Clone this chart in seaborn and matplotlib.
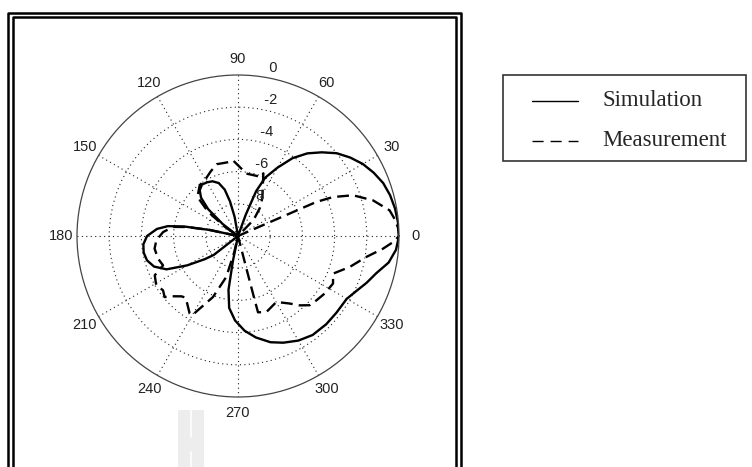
import numpy as np
import pandas as pd
import matplotlib
matplotlib.use("Agg")
import matplotlib.pyplot as plt
import seaborn as sns
from matplotlib.lines import Line2D
from matplotlib.patches import Rectangle

# radiation pattern, angle in degrees, gain in dB
sim_deg = [0, 5, 10, 15, 20, 25, 30, 35, 40, 45, 50, 55, 60, 65, 68, 70, 72,
           85, 98, 100, 103, 106, 110, 115, 120, 125, 130, 134, 138, 142, 146,
           156, 166, 168, 170, 172, 175, 180, 185, 190, 195, 200, 205, 210, 215,
           218, 221, 240, 257, 258.5, 260, 263, 268, 274, 280, 287, 293, 300,
           307, 315, 322, 330, 335, 340, 345, 350, 355, 360]
sim_db = [0.0, -0.03, -0.1, -0.22, -0.4, -0.7, -1.05, -1.5, -2.0, -2.65, -3.3,
          -4.1, -5.1, -6.0, -7.0, -8.6, -10,
          -10, -10, -8.8, -7.8, -7.0, -6.5, -6.25, -6.15, -6.1, -6.3, -6.7,
          -7.5, -8.8, -10,
          -10, -10, -8.2, -6.6, -5.6, -4.95, -4.35, -4.1, -4.05, -4.15, -4.45,
          -5.1, -6.35, -7.5, -8.1, -10, -10, -10, -8.4, -6.6, -5.5, -4.75,
          -4.1, -3.6, -3.1, -2.8, -2.5, -2.3, -2.25, -2.25, -2.2, -1.9, -1.5,
          -1.1, -0.5, -0.15, 0.0]

meas_deg = [0, 3, 6, 9.6, 14.8, 19.5, 22.3, 23.5, 23.5, 24, 44, 46, 52, 57.3,
            68, 68.4, 75, 82.3, 88.6, 93.8, 96.4, 106.5, 113, 120.5, 127, 136,
            141, 145, 148, 166, 168, 170, 172, 177, 183, 188.6, 195.8, 201.4,
            205.3, 211.1, 215.9, 219.8, 221.4, 226.8, 229.7, 238.1, 239.9,
            247.7, 254, 257, 258, 284, 284.5, 284.6, 284.7, 290.5, 300.2,
            307.4, 311.6, 316, 320.6, 326.4, 333.4, 338.4, 344.5, 350.7, 355,
            358, 360]
meas_db = [0.0, -0.05, -0.2, -0.45, -1.33, -2.42, -3.62, -4.7, -7.0, -10, -10,
           -8.6, -7.8, -7.2, -5.8, -6.06, -6.1, -6.09, -5.71, -5.29, -5.37,
           -5.35, -5.65, -5.96, -6.05, -6.5, -7.6, -9.0, -10, -10, -8.2, -6.8,
           -5.93, -5.34, -4.92, -4.76, -4.84, -5.0, -4.28, -4.07, -4.25, -4.07,
           -4.34, -4.86, -4.98, -4.32, -4.3, -5.9, -7.35, -9.0, -10, -10, -7.6,
           -5.9, -5.1, -4.96, -5.26, -4.72, -4.24, -3.81, -3.7, -3.54, -3.4,
           -3.65, -2.8, -1.93, -0.96, -0.3, 0.0]

angle_ticks = list(range(0, 360, 30))
ring_db = [0, -2, -4, -6, -8]

df = pd.concat([
    pd.DataFrame({"theta": np.deg2rad(sim_deg), "r": np.array(sim_db) + 10,
                  "series": "Simulation"}),
    pd.DataFrame({"theta": np.deg2rad(meas_deg), "r": np.array(meas_db) + 10,
                  "series": "Measurement"}),
], ignore_index=True)
df["r"] = df["r"].clip(lower=0)

sns.set_style("white")
plt.rcParams["font.family"] = ["Liberation Sans", "DejaVu Sans"]

W, H = 752, 467
fig = plt.figure(figsize=(W / 100, H / 100), dpi=100)


def fx(x):
    return x / W


def fy(y):
    return 1 - y / H


# light scan artifact below the chart
fig.add_artist(Rectangle((fx(178), fy(467)), 26 / W, 57 / H,
                         transform=fig.transFigure, color="#ededed", lw=0))
fig.add_artist(Line2D([fx(191), fx(191)], [fy(410), fy(437)],
                      transform=fig.transFigure, color="white", lw=1.2))
fig.add_artist(Line2D([fx(191), fx(191)], [fy(452), fy(467)],
                      transform=fig.transFigure, color="white", lw=1.2))

# double frame around the plot (open at the bottom)
for xl, xr, yt in [(8, 461, 13), (12.5, 455.5, 17)]:
    fig.add_artist(Line2D([fx(xl), fx(xl), fx(xr), fx(xr)],
                          [0, fy(yt), fy(yt), 0],
                          transform=fig.transFigure, color="black", lw=1.8))

cx, cy, R = 238, 236, 161
ax = fig.add_axes([fx(cx - R), fy(cy + R), 2 * R / W, 2 * R / H],
                  projection="polar")
ax.set_ylim(0, 10)
ax.set_rgrids([2, 4, 6, 8], labels=[])
ax.set_thetagrids(angle_ticks, labels=[])
ax.grid(True, color="#222222", linestyle=(0, (1, 3)), lw=0.8)
ax.spines["polar"].set_color("#444444")
ax.spines["polar"].set_linewidth(0.9)
ax.tick_params(length=0)

sns.lineplot(data=df, x="theta", y="r", style="series",
             style_order=["Simulation", "Measurement"],
             dashes={"Simulation": "", "Measurement": (5, 2.6)},
             sort=False, estimator=None, color="black", lw=1.7,
             legend=False, ax=ax)
ax.set_xlabel("")
ax.set_ylabel("")

for a in angle_ticks:
    ax.text(np.deg2rad(a), 11, str(a), ha="center", va="center",
            fontsize=10.5, color="#222222")
for d in ring_db:
    ax.text(np.deg2rad(82), d + 10 + 0.1, "  " + str(d), ha="left",
            va="bottom", fontsize=10.5, color="#222222")

# legend box
fig.add_artist(Rectangle((fx(503), fy(161)), 243 / W, 86 / H,
                         transform=fig.transFigure, fill=False,
                         edgecolor="#333333", lw=1.2))
fig.add_artist(Line2D([fx(532), fx(578)], [fy(101), fy(101)],
                      transform=fig.transFigure, color="black", lw=1.0))
fig.add_artist(Line2D([fx(532), fx(578)], [fy(141), fy(141)],
                      transform=fig.transFigure, color="black", lw=1.0,
                      linestyle=(0, (8, 5))))
fig.text(fx(602), fy(101), "Simulation", family="Liberation Serif",
         fontsize=16.5, va="center", ha="left")
fig.text(fx(602), fy(141), "Measurement", family="Liberation Serif",
         fontsize=16.5, va="center", ha="left")

fig.savefig("out.png", dpi=100, facecolor="white")
